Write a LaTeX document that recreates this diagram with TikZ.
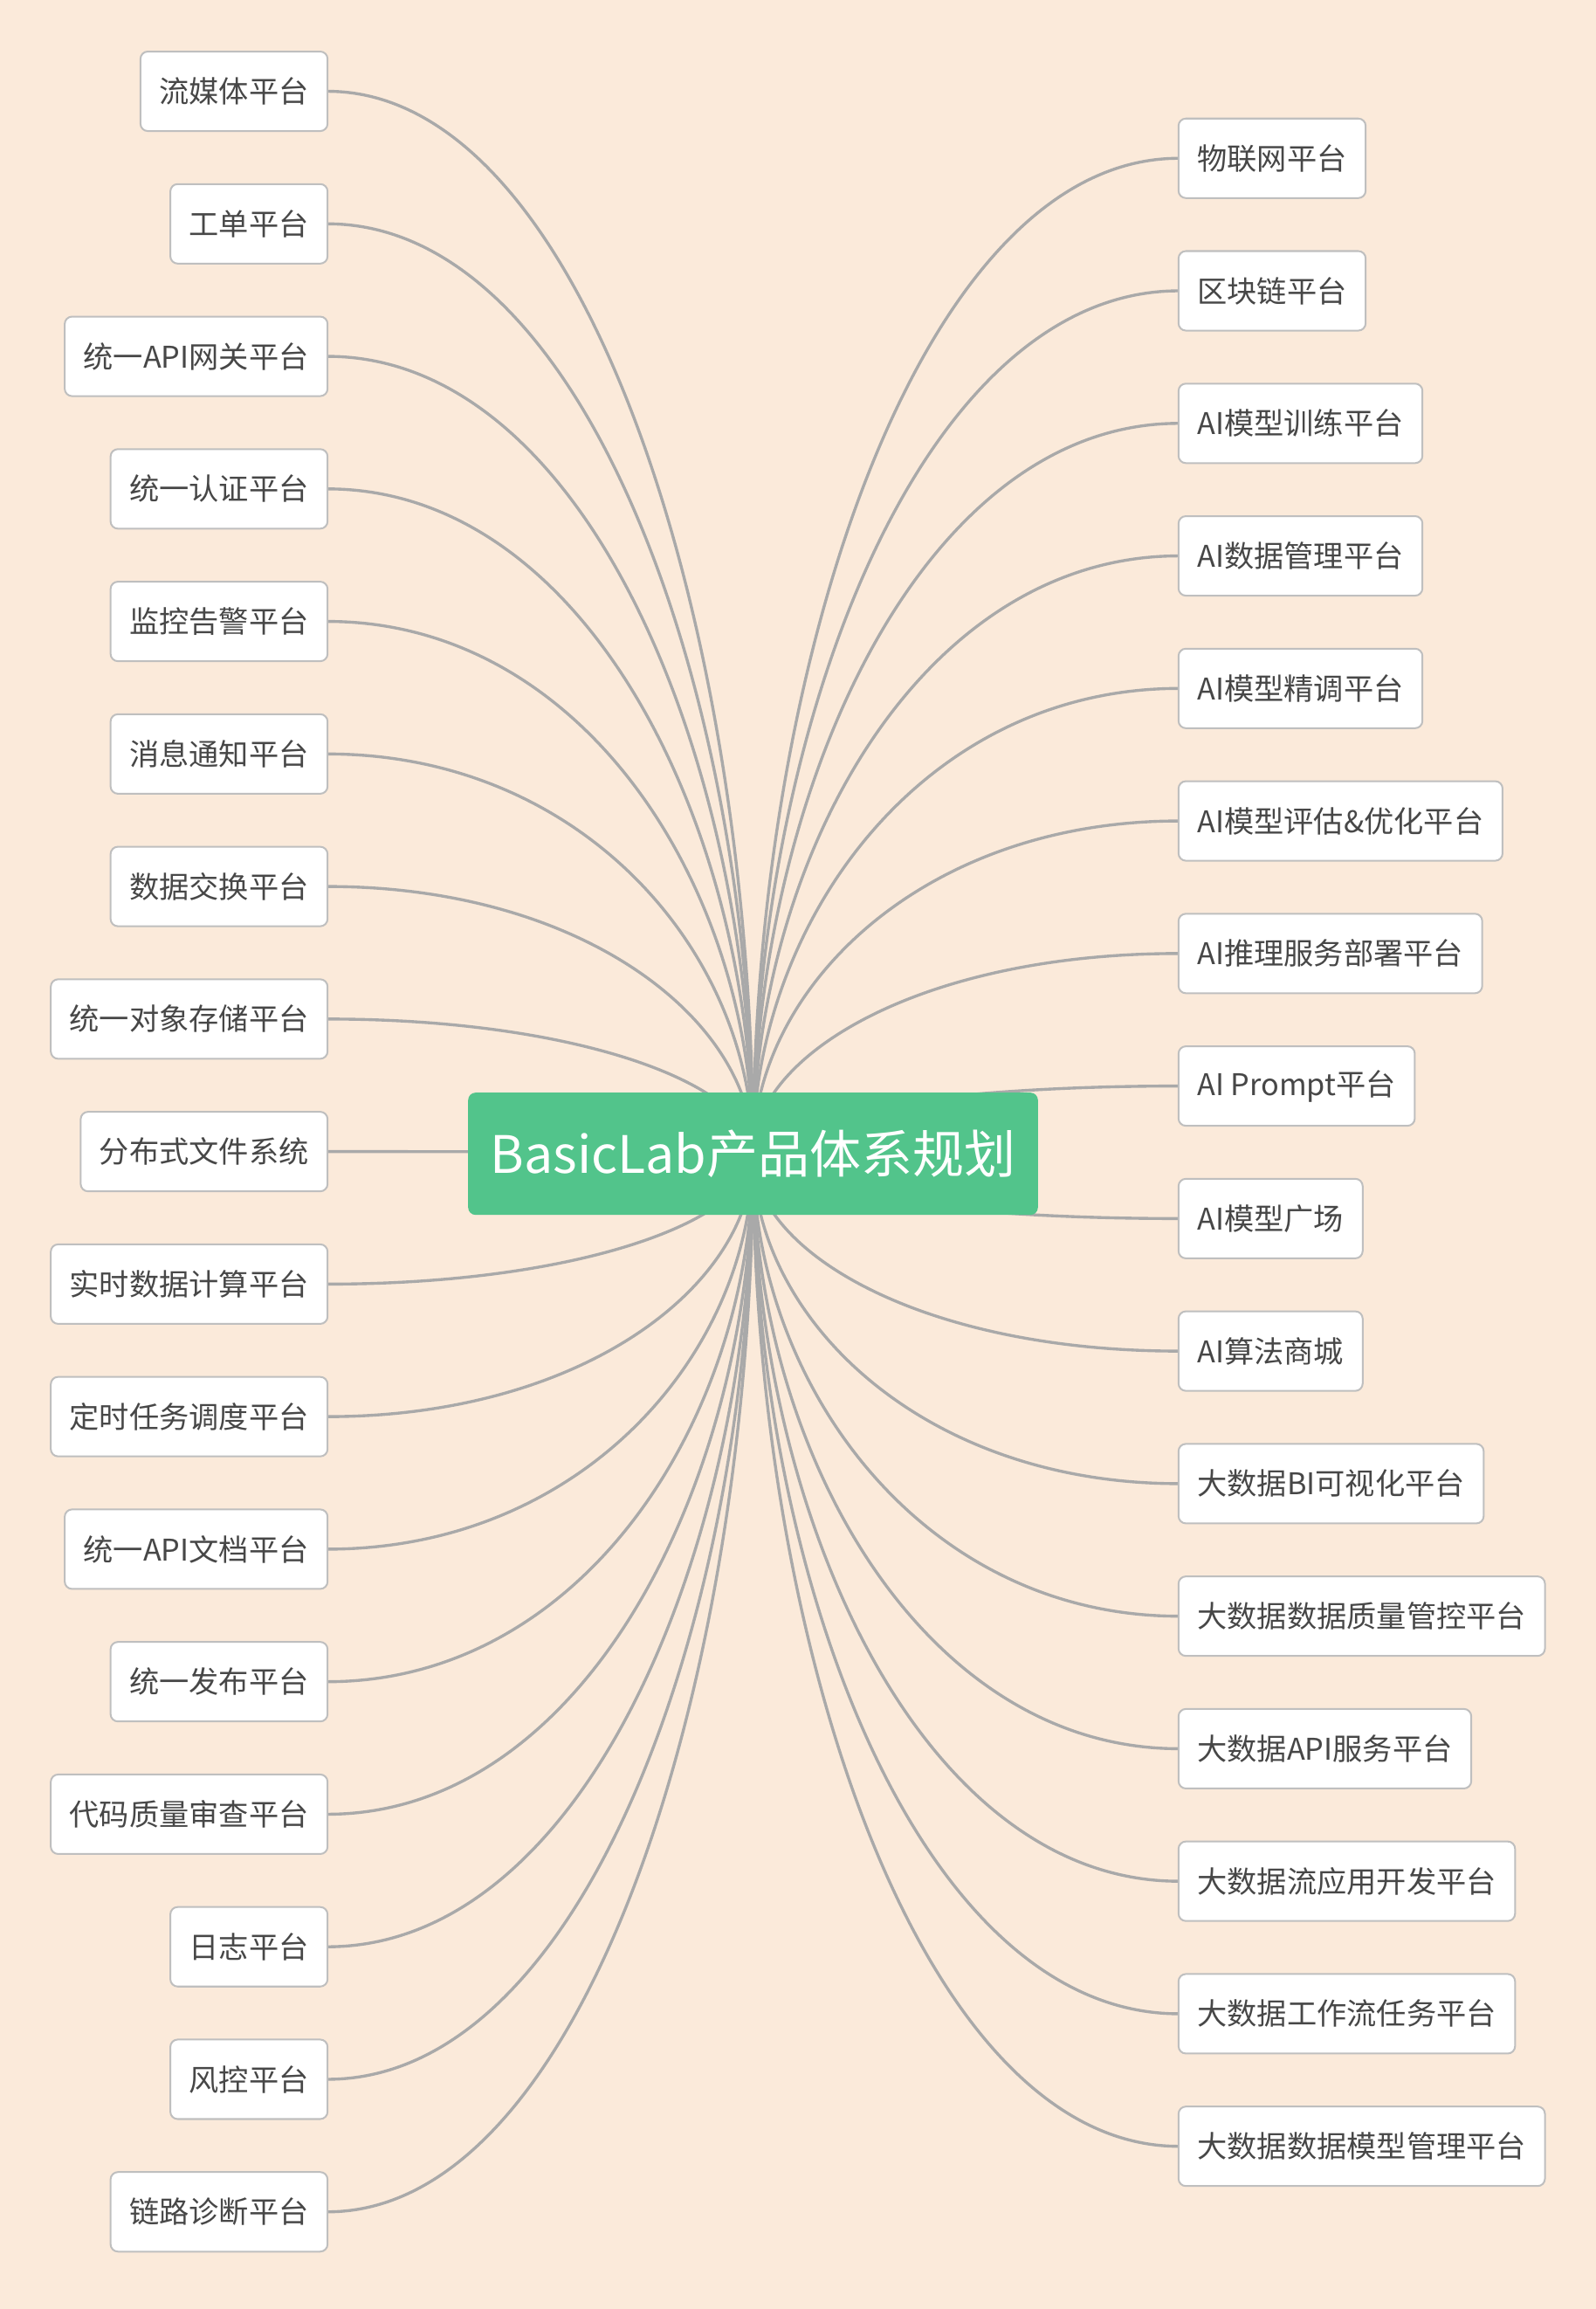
\documentclass[tikz,border=0pt]{standalone}
\usepackage{fontspec}
\setmainfont{Noto Sans CJK SC}
\usetikzlibrary{calc}
\definecolor{peach}{HTML}{FBEADA}
\definecolor{hubgreen}{HTML}{52C48B}
\definecolor{linegray}{HTML}{A9A9A9}
\definecolor{boxgray}{HTML}{BFBFBF}
\definecolor{txtgray}{HTML}{474747}
\pgfdeclarelayer{bg}
\pgfdeclarelayer{edges}
\pgfsetlayers{bg,edges,main}
\tikzset{
  leaf/.style={draw=boxgray, line width=1.2pt, fill=white, rounded corners=5pt, outer sep=0pt,
    text=txtgray, font=\fontsize{20.3}{24}\selectfont, minimum height=54pt, inner xsep=12.8pt},
  hub/.style={fill=hubgreen, rounded corners=5pt, text=white,
    font=\fontsize{35}{42}\selectfont, minimum width=387pt, minimum height=83pt},
  branch/.style={draw=linegray, line width=2pt}
}

\begin{document}
\begin{tikzpicture}[x=1pt, y=-1pt]
    \begin{pgfonlayer}{bg}
        \fill[peach] (0,0) rectangle (1084,1568);
    \end{pgfonlayer}
    \useasboundingbox (0,0) rectangle (1084,1568);
    \node[hub] (root) at (511.5,783.5) {BasicLab产品体系规划};
    % left side
    \foreach \txt [count=\i] in {流媒体平台, 工单平台, 统一API网关平台, 统一认证平台,
        监控告警平台, 消息通知平台, 数据交换平台, 统一对象存储平台, 分布式文件系统,
        实时数据计算平台, 定时任务调度平台, 统一API文档平台, 统一发布平台,
        代码质量审查平台, 日志平台, 风控平台, 链路诊断平台}
        \node[leaf, anchor=east] (L\i) at (222.5, 90*\i-28) {\txt};
    % right side
    \foreach \txt [count=\i] in {物联网平台, 区块链平台, AI模型训练平台, AI数据管理平台,
        AI模型精调平台, AI模型评估\&优化平台, AI推理服务部署平台, AI Prompt平台,
        AI模型广场, AI算法商城, 大数据BI可视化平台, 大数据数据质量管控平台,
        大数据API服务平台, 大数据流应用开发平台, 大数据工作流任务平台, 大数据数据模型管理平台}
        \node[leaf, anchor=west] (R\i) at (800.5, 90*\i+17.5) {\txt};
    \begin{pgfonlayer}{edges}
        \foreach \i in {1,...,17}
            \draw[branch] (L\i.east) .. controls ($(L\i.east)!0.6!(L\i.east -| root.center)$)
                and ($(root.center)!0.5!(root.center |- L\i.east)$) .. (root.center);
        \foreach \i in {1,...,16}
            \draw[branch] (R\i.west) .. controls ($(R\i.west)!0.6!(R\i.west -| root.center)$)
                and ($(root.center)!0.5!(root.center |- R\i.west)$) .. (root.center);
    \end{pgfonlayer}
\end{tikzpicture}
\end{document}
